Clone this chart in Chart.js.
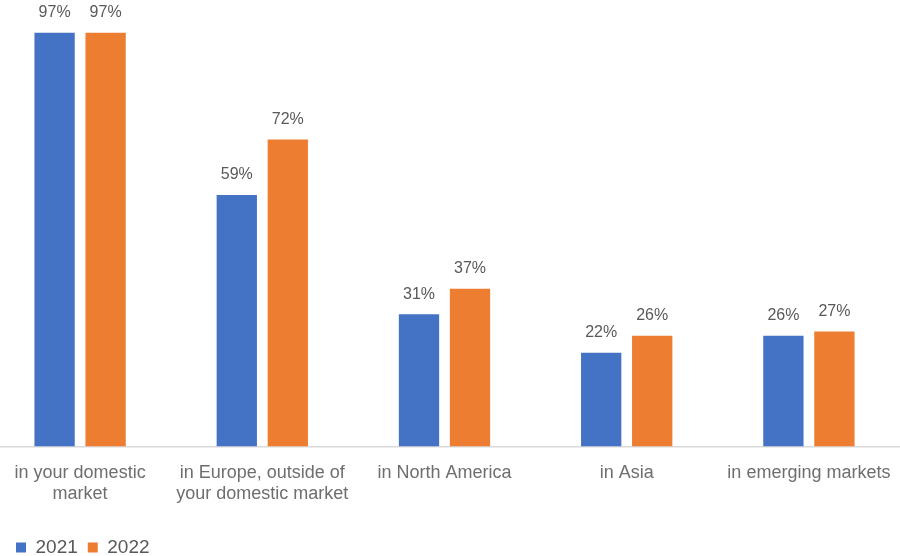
<!DOCTYPE html>
<html><head><meta charset="utf-8">
<script src="https://cdn.jsdelivr.net/npm/chart.js@4/dist/chart.umd.min.js"></script>
<style>
html,body{margin:0;padding:0;background:#fff;overflow:hidden;}
#wrap{position:absolute;left:-11px;top:0;width:911px;height:556px;}
</style></head>
<body><div id="wrap"><canvas id="c"></canvas></div>
<script>
const categories = [["in your domestic","market"],["in Europe, outside of","your domestic market"],"in North America","in Asia","in emerging markets"];
const seriesNames = ["2021","2022"];
const values2021 = [97,59,31,22,26];
const values2022 = [97,72,37,26,27];
const colors = ["#4472C4","#ED7D31"];

const FONT = "'Liberation Sans', Arial, sans-serif";

const dataLabels = {
  id:'dataLabels',
  afterDatasetsDraw(chart){
    const ctx = chart.ctx;
    ctx.save();
    ctx.font = "16px " + FONT;
    ctx.fillStyle = "#595959";
    ctx.textAlign = "center";
    ctx.textBaseline = "middle";
    chart.data.datasets.forEach((ds,i)=>{
      chart.getDatasetMeta(i).data.forEach((el,j)=>{
        ctx.fillText(ds.data[j] + "%", el.x, el.y - 20);
      });
    });
    ctx.restore();
  }
};
const legendShift = {
  id:'legendShift',
  afterLayout(chart){
    const lg = chart.legend;
    if(!lg) return;
    const dx = 17, dy = 20;
    lg.left += dx; lg.right += dx;
    lg.top += dy; lg.bottom += dy;
  }
};

new Chart(document.getElementById('c'), {
  type:'bar',
  data:{
    labels: categories,
    datasets:[
      {label:seriesNames[0], data:values2021, backgroundColor:colors[0]},
      {label:seriesNames[1], data:values2022, backgroundColor:colors[1]}
    ]
  },
  options:{
    responsive:true, maintainAspectRatio:false, animation:false,
    layout:{padding:{top:20,left:0,right:0,bottom:9}},
    datasets:{bar:{categoryPercentage:0.56, barPercentage:0.79}},
    plugins:{
      legend:{position:'bottom', align:'start',
        labels:{boxWidth:10, boxHeight:10, padding:10, color:'#595959', font:{family:FONT,size:19}}},
      tooltip:{enabled:false}
    },
    scales:{
      x:{grid:{display:false, drawTicks:true, tickLength:12}, border:{display:true,color:'#d9d9d9',width:1.5},
         ticks:{color:'#6e6e6e', padding:4, maxRotation:0, autoSkip:false, font:{family:FONT,size:18,lineHeight:1.15}}},
      y:{display:false, min:0, max:100}
    }
  },
  plugins:[dataLabels, legendShift]
});
</script></body></html>
